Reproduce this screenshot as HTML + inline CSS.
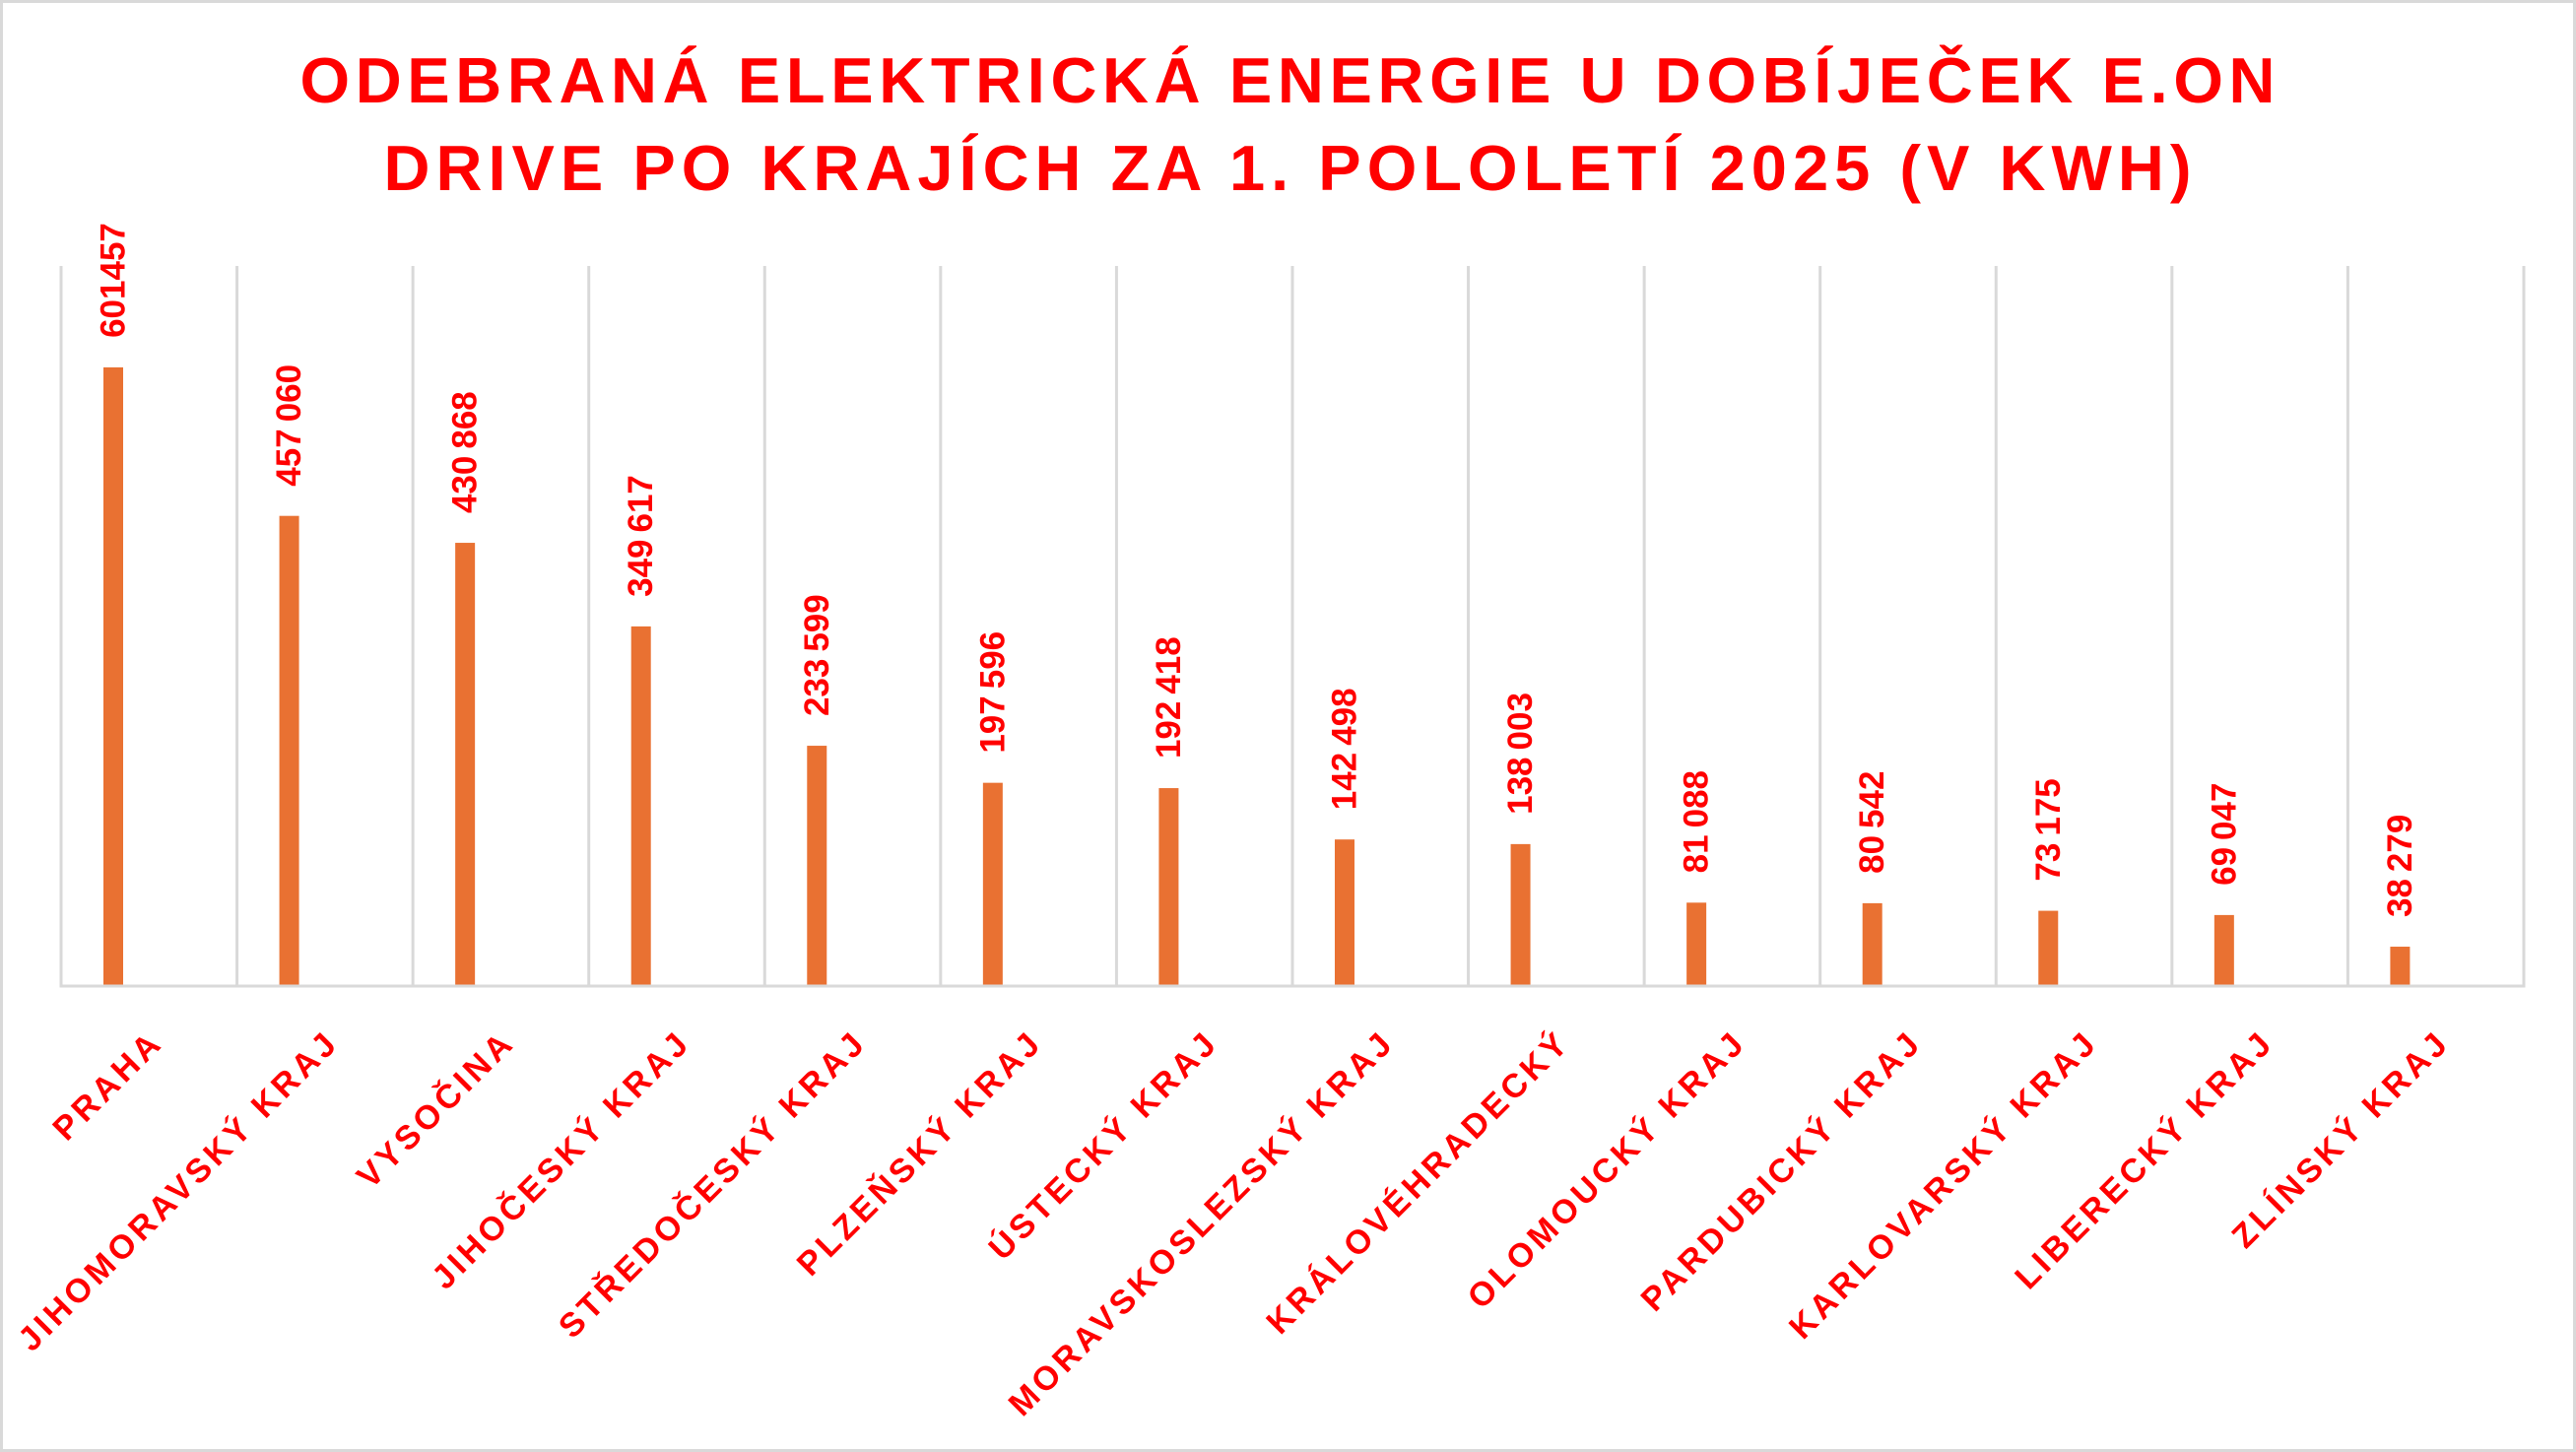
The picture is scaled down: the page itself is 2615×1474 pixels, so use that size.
<!DOCTYPE html>
<html><head><meta charset="utf-8"><style>
html,body{margin:0;padding:0;background:#fff}
svg{display:block}
text{font-family:"Liberation Sans",Arial,sans-serif;font-weight:bold;fill:#FF0000}
</style></head><body>
<svg width="2615" height="1474" viewBox="0 0 2615 1474" xmlns="http://www.w3.org/2000/svg">
<rect x="1.5" y="1.5" width="2612" height="1471" fill="#fff" stroke="#D9D9D9" stroke-width="3"/>
<text x="1307" y="104" font-size="65" text-anchor="middle" textLength="2005" lengthAdjust="spacing">ODEBRANÁ ELEKTRICKÁ ENERGIE U DOBÍJEČEK E.ON</text>
<text x="1307" y="193" font-size="65" text-anchor="middle" textLength="1835" lengthAdjust="spacing">DRIVE PO KRAJÍCH ZA 1. POLOLETÍ 2025 (V KWH)</text>
<g id="chart"></g>
</svg>
<script>
var data=[["PRAHA",601457,"601457"],["JIHOMORAVSKÝ KRAJ",457060,"457\u2009060"],["VYSOČINA",430868,"430\u2009868"],["JIHOČESKÝ KRAJ",349617,"349\u2009617"],["STŘEDOČESKÝ KRAJ",233599,"233\u2009599"],["PLZEŇSKÝ KRAJ",197596,"197\u2009596"],["ÚSTECKÝ KRAJ",192418,"192\u2009418"],["MORAVSKOSLEZSKÝ KRAJ",142498,"142\u2009498"],["KRÁLOVÉHRADECKÝ",138003,"138\u2009003"],["OLOMOUCKÝ KRAJ",81088,"81\u2009088"],["PARDUBICKÝ KRAJ",80542,"80\u2009542"],["KARLOVARSKÝ KRAJ",73175,"73\u2009175"],["LIBERECKÝ KRAJ",69047,"69\u2009047"],["ZLÍNSKÝ KRAJ",38279,"38\u2009279"]];
var g=document.getElementById('chart'),s='';
var x0=62,w=178.57,ptop=270,base=1001,max=700000;
for(var i=0;i<=14;i++){var x=x0+i*w;s+='<line x1="'+x+'" y1="'+ptop+'" x2="'+x+'" y2="'+base+'" stroke="#D9D9D9" stroke-width="3"/>';}
s+='<line x1="'+(x0-1.5)+'" y1="'+base+'" x2="'+(x0+14*w+1.5)+'" y2="'+base+'" stroke="#D9D9D9" stroke-width="3"/>';
data.forEach(function(d,i){
 var gl=x0+i*w,bx=gl+43,bw=20,h=d[1]/max*(base-ptop),by=base-h,cx=bx+bw/2;
 s+='<rect x="'+bx+'" y="'+by+'" width="'+bw+'" height="'+(h-1.5)+'" fill="#E97132"/>';
 s+='<text transform="translate('+cx+','+(by-30)+') rotate(-90)" font-size="35" dominant-baseline="central">'+d[2]+'</text>';
 var cc=gl+w/2;
 s+='<text transform="translate('+(cc+16)+',1060) rotate(-45)" font-size="34" letter-spacing="4" text-anchor="end">'+d[0]+'</text>';
});
g.innerHTML=s;
</script>
</body></html>
